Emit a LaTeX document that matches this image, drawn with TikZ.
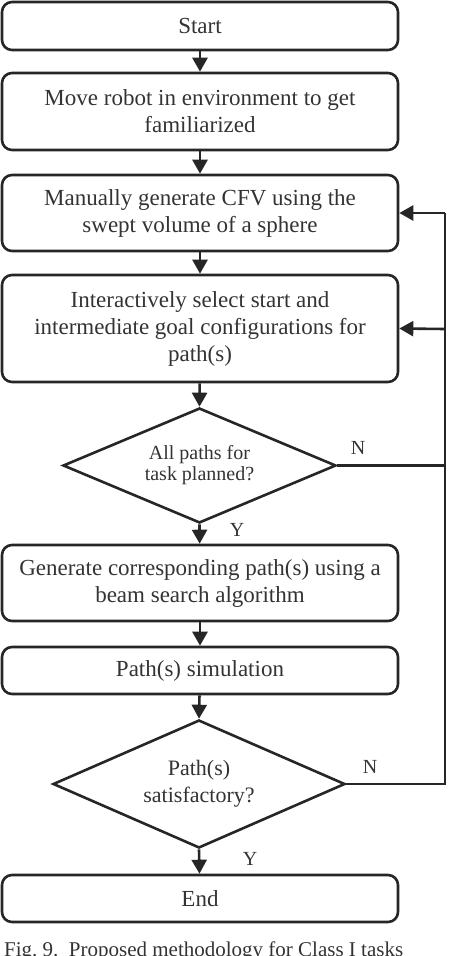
\documentclass[tikz,border=0pt]{standalone}
\usepackage{fontspec}
\setmainfont{Liberation Serif}
\usetikzlibrary{arrows.meta,shapes.geometric}
\definecolor{ln}{HTML}{262626}
\definecolor{tx}{HTML}{333333}
\begin{document}
\begin{tikzpicture}[x=1pt,y=1pt,
  stepbox/.style={draw=ln,line width=2.6pt,rounded corners=10pt,minimum width=396pt,inner sep=0pt,align=center,text=tx,font=\fontsize{23}{27}\selectfont},
  decbox/.style={draw=ln,line width=2.6pt,diamond,inner sep=0pt,align=center,text=tx},
  arr/.style={draw=ln,line width=2.6pt,-{Triangle[length=14pt,width=15pt]}},
  lnk/.style={draw=ln,line width=2.6pt},
  lab/.style={text=tx,font=\fontsize{20}{22}\selectfont,inner sep=0pt}]
\useasboundingbox (0,0) rectangle (448,-956);
\node[stepbox,minimum height=48pt] (start) at (200,-26) {Start};
\node[stepbox,minimum height=77pt] (move) at (200,-111.5) {Move robot in environment to get\\familiarized};
\node[stepbox,minimum height=76pt] (cfv) at (200,-213) {Manually generate CFV using the\\swept volume of a sphere};
\node[stepbox,minimum height=107pt] (sel) at (200,-328.5) {Interactively select start and\\intermediate goal configurations for\\path(s)};
\node[decbox,minimum width=273pt,minimum height=115pt,aspect=2.37,font=\fontsize{20}{21}\selectfont] (d1) at (199.5,-465.5) {All paths for\\task planned?};
\node[stepbox,minimum height=76pt] (gen) at (200,-583) {Generate corresponding path(s) using a\\beam search algorithm};
\node[stepbox,minimum height=47pt] (sim) at (200,-670.5) {Path(s) simulation};
\node[decbox,minimum width=292pt,minimum height=128pt,aspect=2.28,font=\fontsize{22}{27}\selectfont] (d2) at (199,-784) {Path(s)\\satisfactory?};
\node[stepbox,minimum height=47pt] (fin) at (200,-898.5) {End};
\coordinate (r1) at (445,-213);
\coordinate (r2) at (445,-329);
\draw[arr] (start) -- (move);
\draw[arr] (move) -- (cfv);
\draw[arr] (cfv) -- (sel);
\draw[arr] (sel) -- (d1.north);
\draw[arr] (d1.south) -- (gen);
\draw[arr] (gen) -- (sim);
\draw[arr] (sim) -- (d2.north);
\draw[arr] (d2.south) -- (fin);
\draw[lnk] (d1.east) -| (r1);
\draw[arr] (r1) -- (cfv.east);
\draw[lnk] (d2.east) -| (r2);
\draw[arr] (r2) -- (sel.east);
\node[lab] (n1) at (358,-448) {N};
\node[lab] (y1) at (237,-530) {Y};
\node[lab] (n2) at (370,-767) {N};
\node[lab] (y2) at (250,-859) {Y};
\node[anchor=north west,inner sep=0pt,text=tx,font=\fontsize{21}{24}\selectfont] (cap) at (4,-942) {Fig.~9.\ \ Proposed methodology for Class I tasks};
\end{tikzpicture}
\end{document}
